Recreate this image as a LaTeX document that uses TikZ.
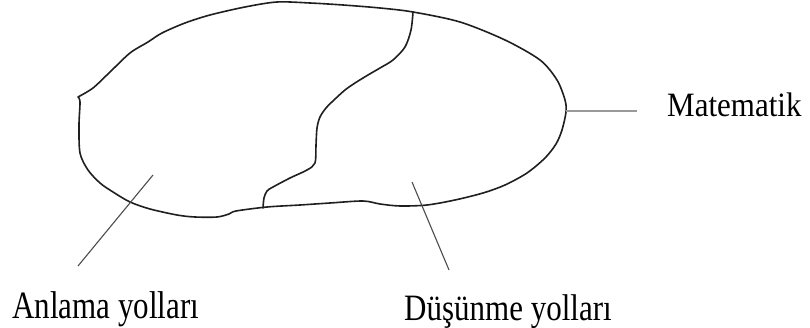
\documentclass[tikz,border=0pt]{standalone}
\usepackage{fontspec}
\setmainfont{Liberation Serif}
\usepackage{tikz}

% tall serif labels, as in the figure
\newcommand{\tallname}[2]{\scalebox{1}[#1]{#2}}

\begin{document}
\begin{tikzpicture}[x=1pt, y=-1pt,
    brainline/.style={line width=1.6pt, black!88, line join=round, line cap=round},
    pointer/.style={line width=1.1pt, black!70},
    areatext/.style={font=\fontsize{31}{36}\selectfont, inner sep=0pt, anchor=base west}]

    % Frame (pixel grid of the figure)
    \useasboundingbox (0,0) rectangle (810,328);

    % Outer outline, left corner first, then clockwise
    \draw[brainline] plot[smooth, tension=0.5] coordinates {
        (78,97) (93,88) (110,72) (130,53) (148,42) (162,33) (185,23) (210,15)
        (245,7) (277,2) (310,3) (343,5) (380,8) (413,12) (460,22) (505,40)
        (540,60) (557,80) (565,100) (566,112) (562,130) (556,144) (545,158)
        (527,173) (505,185) (483,193) (455,200) (427,205) (400,206) (380,204)
        (363,201) (330,203) (300,205) (267,207) (236,211) (229,214) (217,217)
        (195,217) (177,215) (150,209) (130,202) (113,192) (100,183) (88,170)
        (80,153) (79,125) (80,102) (78,97)};

    % Dividing line between the two areas
    \draw[brainline] plot[smooth, tension=0.5] coordinates {
        (413,12) (411,30) (405,47) (393,60) (380,68) (368,75) (355,83)
        (345,90) (334,100) (326,108) (320,117) (317,128) (316,145) (315,163)
        (307,170) (290,178) (273,187) (267,191) (264,198) (263,208)};

    % Texts
    \node[areatext] (anlama)    at (12,318)  {\tallname{1.25}{Anlama yolları}};
    \node[areatext] (dusunme)   at (404,320) {\tallname{1.2}{Düşünme yolları}};
    \node[areatext] (matematik) at (667,117) {\tallname{1.1}{Matematik}};

    % Pointer ends
    \coordinate (anlamaTop)   at (153,175);
    \coordinate (anlamaEnd)   at (78,266);
    \coordinate (dusunmeTop)  at (412,182);
    \coordinate (dusunmeEnd)  at (449,270);
    \coordinate (rightEdge)   at (566,111);
    \coordinate (matEnd)      at (637,111);

    % Pointers
    \draw[pointer] (anlamaTop) -- (anlamaEnd);
    \draw[pointer] (dusunmeTop) -- (dusunmeEnd);
    \draw[line width=2pt, black!40] (rightEdge) -- (matEnd);

\end{tikzpicture}
\end{document}
